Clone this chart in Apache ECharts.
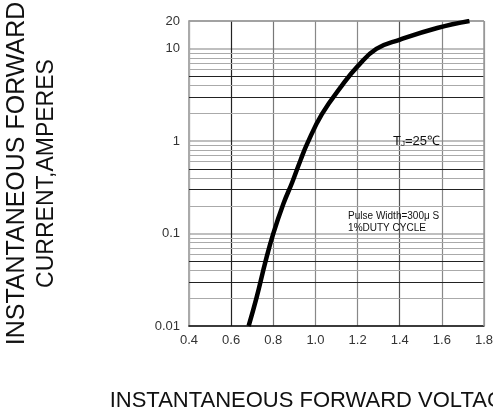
<!DOCTYPE html>
<html>
<head>
<meta charset="utf-8">
<script src="https://cdn.jsdelivr.net/npm/echarts@6/dist/echarts.min.js"></script>
<style>
html,body{margin:0;padding:0;background:#fff;}
#chart{width:493px;height:419px;}
</style>
</head>
<body>
<div id="chart"></div>
<script>
// Forward characteristic
const voltage = [0.683, 0.72, 0.765, 0.80, 0.848, 0.89, 0.93, 0.96, 1.03, 1.129, 1.201, 1.289, 1.402, 1.578, 1.731];
const current = [0.01, 0.02, 0.052, 0.1, 0.21, 0.36, 0.63, 0.93, 1.95, 4.1, 6.5, 10, 12.6, 16.8, 20];

const xMin = 0.4, xMax = 1.8, xStep = 0.2;
const yMin = 0.01, yMax = 20;
const yTickLabels = ['0.01', '0.1', '1', '10', '20'];
const minorDark = [0.03, 0.05, 0.3, 0.5, 3, 5];
const minorGray = [0.02, 0.04, 0.06, 0.07, 0.08, 0.09, 0.2, 0.4, 0.6, 0.7, 0.8, 0.9, 2, 4, 6, 7, 8, 9];

const tjText = 'T{sub|J}=25℃';
const pulseText = 'Pulse Width=300μ S\n1%DUTY CYCLE';
const yName = '{a|INSTANTANEOUS FORWARD}\n{b|CURRENT,AMPERES}';
const xName = 'INSTANTANEOUS FORWARD VOLTAGE,VOLTS';

const FONT = 'Liberation Sans, Arial, sans-serif';

const gridLines = [];
minorGray.forEach(v => gridLines.push({yAxis: v, lineStyle: {color: '#aaa', width: 1.2, type: 'solid'}}));
minorDark.forEach(v => gridLines.push({yAxis: v, lineStyle: {color: '#222', width: 1.2, type: 'solid'}}));
gridLines.push({yAxis: yMax, lineStyle: {color: '#999', width: 1.5, type: 'solid'}});

const chart = echarts.init(document.getElementById('chart'), null, {renderer: 'canvas'});
chart.setOption({
  animation: false,
  backgroundColor: '#fff',
  grid: {left: 189, right: 9, top: 21, bottom: 93, containLabel: false, outerBoundsMode: 'none'},
  xAxis: {
    type: 'value', min: xMin, max: xMax, interval: xStep,
    name: xName, nameLocation: 'middle', nameGap: 64,
    nameTextStyle: {fontFamily: FONT, fontSize: 22, color: '#111', padding: [0, 0, 0, 32]},
    axisLine: {show: true, lineStyle: {color: '#111', width: 1.5}},
    axisTick: {show: false},
    axisLabel: {fontFamily: FONT, fontSize: 13, color: '#333', margin: 8,
      formatter: v => v.toFixed(1)},
    splitLine: {show: true, lineStyle: {color: ['#666', '#222', '#777', '#888', '#888', '#555', '#888', '#999'], width: 1.2}}
  },
  yAxis: {
    type: 'log', logBase: 10, min: yMin, max: yMax,
    name: yName, nameLocation: 'middle', nameGap: 128, nameRotate: 90,
    nameTextStyle: {fontFamily: FONT, color: '#111',
      rich: {
        a: {fontFamily: FONT, fontSize: 25, color: '#111', lineHeight: 29},
        b: {fontFamily: FONT, fontSize: 23, color: '#111', lineHeight: 29}
      }},
    axisLine: {show: true, lineStyle: {color: '#aaa', width: 2}},
    axisTick: {show: false},
    axisLabel: {fontFamily: FONT, fontSize: 13, color: '#333', margin: 9,
      showMaxLabel: true,
      formatter: v => {
        const s = String(+v.toPrecision(3));
        return yTickLabels.indexOf(s) >= 0 ? s : '';
      }},
    splitLine: {show: true, lineStyle: {color: '#aaa', width: 1.5}}
  },
  series: [{
    type: 'line',
    data: voltage.map((v, i) => [v, current[i]]),
    smooth: 0.45,
    symbol: 'none',
    lineStyle: {color: '#000', width: 4.5},
    z: 5,
    markLine: {
      silent: true, symbol: 'none', animation: false,
      label: {show: false},
      data: gridLines,
      z: 1
    },
    markPoint: {
      silent: true, symbol: 'circle', symbolSize: 0,
      data: [
        {coord: [1.48, 1.0], label: {show: true, formatter: tjText, fontFamily: FONT, fontSize: 13, color: '#111',
          align: 'center', verticalAlign: 'middle',
          rich: {sub: {fontSize: 8, verticalAlign: 'bottom', padding: [6, 0, 0, 0], fontFamily: FONT, color: '#111'}}}},
        {coord: [1.155, 0.133], label: {show: true, formatter: pulseText, fontFamily: FONT, fontSize: 10, color: '#111',
          align: 'left', verticalAlign: 'middle', lineHeight: 11.5}}
      ]
    }
  }, {
    type: 'line', data: [], markLine: {silent: true, symbol: 'none', label: {show: false},
      data: [{xAxis: xMax, lineStyle: {color: '#999', width: 1.5, type: 'solid'}}]}
  }]
});
</script>
</body>
</html>
